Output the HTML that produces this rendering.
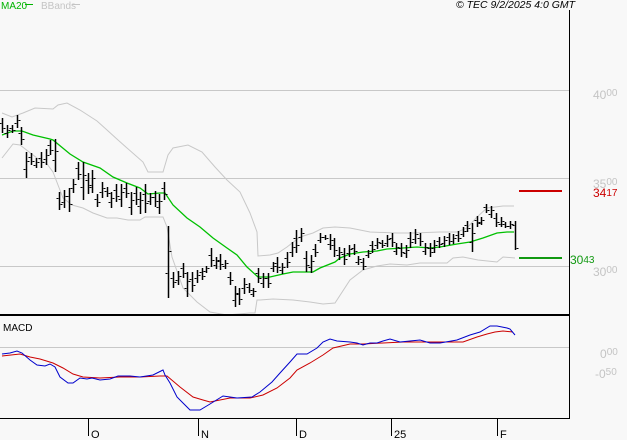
<!DOCTYPE html>
<html><head><meta charset="utf-8"><style>
html,body{margin:0;padding:0;background:#f8f8f8;}
svg{display:block;font-family:"Liberation Sans",sans-serif;}
</style></head><body>
<svg width="627" height="440" viewBox="0 0 627 440" xmlns="http://www.w3.org/2000/svg">
<rect width="627" height="440" fill="#f8f8f8"/>
<!-- header -->
<text x="1" y="9" font-size="10" fill="#00b400">MA20</text>
<line x1="25" y1="4.5" x2="33" y2="4.5" stroke="#00b400" stroke-width="1"/>
<text x="41" y="9" font-size="10" fill="#c4c4c4">BBands</text>
<line x1="72" y1="4.5" x2="80" y2="4.5" stroke="#c4c4c4" stroke-width="1"/>
<text x="456" y="8" font-size="10" font-style="italic" fill="#000" textLength="119" lengthAdjust="spacingAndGlyphs">© TEC 9/2/2025 4:0 GMT</text>
<!-- grid -->
<g stroke="#c8c8c8" stroke-width="1">
<line x1="0" y1="90.5" x2="569" y2="90.5"/>
<line x1="0" y1="178.5" x2="569" y2="178.5"/>
<line x1="0" y1="266.5" x2="569" y2="266.5"/>
<line x1="0" y1="347.5" x2="569" y2="347.5"/>
</g>
<!-- bollinger -->
<g fill="none" stroke="#c8c8c8" stroke-width="1">
<polyline points="2,113 12,117 23,113 35,108 53,109 58,105 67,103 80,110 97,121 107,130 118,140 127,148 143,162 148,172 163,172 168,155 173,148 188,145 202,152 215,167 227,180 240,192 250,213 257,232 258,256 270,255 278,253 287,247 300,237 313,233 323,228 335,227 350,228 370,232 397,233 413,233 440,232 457,232 467,228 477,217 487,208 503,206 514,206"/>
<polyline points="2,158 13,144 20,145 37,158 47,164 53,172 58,185 63,198 72,205 83,208 93,213 107,218 117,218 128,220 140,220 145,217 163,217 167,227 172,257 183,288 197,302 210,312 227,315 250,313 255,313 257,300 260,300 273,299 293,300 310,302 323,304 335,303 350,280 363,270 377,266 390,264 407,265 420,263 447,263 453,258 463,257 478,260 497,262 503,257 515,258"/>
</g>
<!-- MA20 -->
<polyline fill="none" stroke="#00c000" stroke-width="1.3" points="2,135 13,131 22,131 33,135 50,139 53,140 70,154 83,162 100,168 113,177 127,183 140,188 148,194 160,193 165,193 173,205 187,218 200,227 213,238 227,248 237,255 247,267 258,277 270,277 283,274 293,272 313,272 320,268 335,262 340,258 350,254 363,252 377,251 387,249 403,248 417,247 430,248 440,247 457,244 470,242 483,238 497,233 507,232 514,232"/>
<!-- bars -->
<path transform="translate(0.5,0)" fill="none" stroke="#000" stroke-width="1.5" d="M2 118V133M7 125V138M12 125V133M17 115V128M21 127V145M26 152V178M31 153V165M36 158V168M41 152V168M46 149V165M50 140V155M55 139V172M59 192V210M64 190V208M69 188V212M73 179V193M78 162V180M83 162V200M88 173V194M92 170V193M97 194V207M102 182V198M107 187V197M111 192V208M116 184V202M121 184V207M126 183V198M131 192V215M136 187V205M140 192V214M145 184V213M150 193V205M155 191V207M159 194V214M164 182V200M168 226V298M173 272V288M178 271V285M183 263V278M187 272V297M192 272V292M197 270V283M202 268V280M206 266V273M211 248V267M216 257V269M220 254V270M225 260V269M230 272V285M235 286V307M239 288V305M244 278V294M249 283V293M253 288V297M258 268V283M263 273V288M268 273V288M273 262V272M277 257V273M282 263V274M287 252V268M292 242V257M296 230V253M301 228V242M306 251V272M311 255V273M315 244V257M320 233V243M325 235V240M330 234V250M334 238V257M339 247V260M344 248V265M349 245V257M354 244V255M358 256V265M363 258V270M368 250V258M372 241V253M377 238V249M382 240V248M387 235V247M392 233V247M396 243V255M401 243V257M406 245V258M410 232V248M415 229V244M420 233V246M425 243V255M430 243V257M434 240V253M439 237V248M444 236V247M449 233V245M453 234V244M458 231V242M463 227V237M467 221V232M472 223V252M477 216V227M481 217V225M486 204V213M491 206V218M496 213V227M501 217V227M505 222V228M510 221V229M515 221V250"/>
<path transform="translate(0.5,0.5)" fill="none" stroke="#000" stroke-width="1" d="M-1 123h2M3 128h2M4 133h2M8 130h2M9 128h2M13 130h2M14 123h2M18 120h2M18 133h2M22 139h2M23 169h2M27 161h2M28 157h2M32 161h2M33 165h2M37 162h2M38 158h2M42 162h2M43 159h2M47 155h2M47 145h2M51 150h2M52 160h2M56 151h2M56 198h2M60 204h2M61 202h2M65 196h2M66 196h2M70 204h2M70 188h2M74 184h2M75 168h2M79 174h2M80 187h2M84 175h2M85 180h2M89 187h2M89 185h2M93 178h2M94 199h2M98 202h2M99 192h2M103 188h2M104 191h2M108 193h2M108 202h2M112 198h2M113 190h2M117 196h2M118 199h2M122 192h2M123 188h2M127 193h2M128 207h2M132 200h2M133 193h2M137 199h2M137 206h2M141 200h2M142 194h2M146 203h2M147 201h2M151 197h2M152 197h2M156 201h2M156 207h2M160 201h2M161 188h2M165 194h2M165 273h2M169 251h2M170 278h2M174 282h2M175 280h2M179 276h2M180 268h2M184 273h2M184 288h2M188 281h2M189 279h2M193 285h2M194 278h2M198 275h2M199 272h2M203 276h2M203 271h2M207 268h2M208 255h2M212 260h2M213 265h2M217 261h2M217 260h2M221 264h2M222 266h2M226 263h2M227 277h2M231 280h2M232 300h2M236 293h2M236 294h2M240 299h2M241 288h2M245 284h2M246 287h2M250 290h2M250 294h2M254 291h2M255 273h2M259 278h2M260 283h2M264 278h2M265 278h2M269 283h2M270 268h2M274 266h2M274 263h2M278 267h2M279 270h2M283 267h2M284 258h2M288 262h2M289 252h2M293 247h2M293 238h2M297 245h2M298 237h2M302 233h2M303 258h2M307 265h2M308 267h2M312 261h2M312 249h2M316 252h2M317 240h2M321 237h2M322 237h2M326 238h2M327 244h2M331 240h2M331 245h2M335 250h2M336 255h2M340 252h2M341 254h2M345 259h2M346 253h2M350 249h2M351 248h2M355 251h2M355 262h2M359 259h2M360 262h2M364 266h2M365 255h2M369 253h2M369 245h2M373 249h2M374 245h2M378 242h2M379 243h2M383 245h2M384 243h2M388 239h2M389 238h2M393 242h2M393 251h2M397 247h2M398 248h2M402 252h2M403 253h2M407 250h2M407 238h2M411 242h2M412 239h2M416 234h2M417 238h2M421 241h2M422 251h2M426 247h2M427 248h2M431 252h2M431 248h2M435 245h2M436 241h2M440 244h2M441 243h2M445 240h2M446 237h2M450 241h2M450 241h2M454 238h2M455 235h2M459 238h2M460 234h2M464 231h2M464 225h2M468 228h2M469 242h2M473 233h2M474 220h2M478 223h2M478 222h2M482 220h2M483 207h2M487 210h2M488 214h2M492 210h2M493 218h2M497 222h2M498 224h2M502 221h2M502 224h2M506 226h2M507 226h2M511 224h2M512 225h2M516 248h2"/>
<!-- level lines -->
<line x1="519" y1="191" x2="562" y2="191" stroke="#cc0000" stroke-width="2"/>
<line x1="519" y1="258" x2="562" y2="258" stroke="#119911" stroke-width="2"/>
<!-- price labels -->
<g font-size="12" fill="#c4c4c4">
<text x="593" y="99">40<tspan font-size="10" dy="-3">00</tspan></text>
<text x="593" y="188">35<tspan font-size="10" dy="-3">00</tspan></text>
<text x="593" y="276">30<tspan font-size="10" dy="-3">00</tspan></text>
</g>
<text x="593" y="197" font-size="12" fill="#cc0000">34<tspan font-size="10" dy="-1">17</tspan></text>
<text x="570" y="264" font-size="12" fill="#119911">30<tspan font-size="10" dy="-1">43</tspan></text>
<g font-size="12" fill="#c4c4c4">
<text x="600" y="358">0<tspan font-size="10" dy="-3">00</tspan></text>
<text x="595" y="378">-0<tspan font-size="10" dy="-3">50</tspan></text>
</g>
<!-- panel borders -->
<line x1="0" y1="315" x2="569" y2="315" stroke="#000" stroke-width="2"/>
<line x1="569.5" y1="10" x2="569.5" y2="419" stroke="#000" stroke-width="1"/>
<line x1="0" y1="418.5" x2="570" y2="418.5" stroke="#000" stroke-width="1"/>
<!-- MACD -->
<text x="3" y="331" font-size="10" fill="#000">MACD</text>
<polyline fill="none" stroke="#cc0000" stroke-width="1" points="2,356 20,354 30,357 40,359 53,363 63,368 73,374 83,377 100,378 120,377 140,377 160,376 167,376 180,387 193,397 203,400 210,402 230,398 250,398 263,395 277,388 290,378 297,370 310,363 323,355 333,348 350,344 363,344 383,343 403,342 420,342 463,342 477,337 487,334 495,332 503,331 513,332"/>
<polyline fill="none" stroke="#0000cc" stroke-width="1" points="2,354 10,353 17,351 22,353 30,360 37,365 45,366 50,364 55,367 60,377 68,383 73,383 80,378 87,379 92,378 100,380 110,379 118,376 130,376 140,377 153,375 163,370 165,375 170,383 177,397 183,403 190,410 200,410 210,404 223,396 230,397 237,398 252,397 260,392 272,382 280,373 290,362 297,354 307,354 317,348 323,342 330,339 337,341 350,342 357,343 363,345 370,343 377,343 383,341 390,339 400,342 410,341 420,340 430,343 440,343 457,340 470,335 480,332 490,326 497,326 507,328 510,329 515,335"/>
<!-- x axis ticks -->
<g stroke="#000" stroke-width="1">
<line x1="88.5" y1="419" x2="88.5" y2="436"/>
<line x1="198.5" y1="419" x2="198.5" y2="436"/>
<line x1="296.5" y1="419" x2="296.5" y2="436"/>
<line x1="391.5" y1="419" x2="391.5" y2="436"/>
<line x1="497.5" y1="419" x2="497.5" y2="436"/>
</g>
<g font-size="11" fill="#000">
<text x="91" y="438">O</text>
<text x="201" y="438">N</text>
<text x="299" y="438">D</text>
<text x="394" y="438">25</text>
<text x="500" y="438">F</text>
</g>
</svg>
</body></html>
